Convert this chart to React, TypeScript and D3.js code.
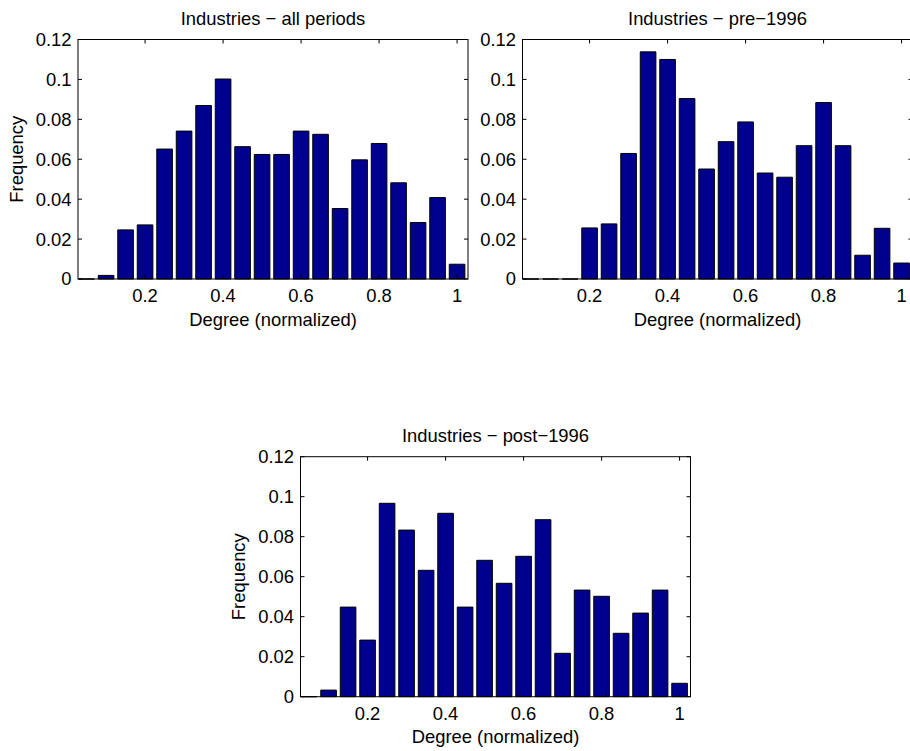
import React from 'react'
import * as d3 from 'd3'

// bin centres shared by all three histograms
const binCenters = [0.05, 0.1, 0.15, 0.2, 0.25, 0.3, 0.35, 0.4, 0.45, 0.5,
    0.55, 0.6, 0.65, 0.7, 0.75, 0.8, 0.85, 0.9, 0.95, 1.0]

const allPeriods = [0, 0.0018, 0.0246, 0.0271, 0.0651, 0.0741, 0.0869, 0.1002, 0.0663, 0.0624,
    0.0624, 0.0741, 0.0725, 0.0353, 0.0597, 0.0679, 0.0482, 0.0283, 0.0408, 0.0074]

const pre1996 = [0, 0, 0, 0.0256, 0.0276, 0.0629, 0.1138, 0.110, 0.0904, 0.0551,
    0.0688, 0.0787, 0.0531, 0.0510, 0.0668, 0.0884, 0.0668, 0.0119, 0.0254, 0.0080]

const post1996 = [0, 0.0033, 0.0448, 0.0283, 0.0967, 0.0833, 0.0632, 0.0917, 0.0448, 0.0682,
    0.0567, 0.0702, 0.0885, 0.0217, 0.0533, 0.0502, 0.0317, 0.0418, 0.0533, 0.0067]

const xTicks = [0.2, 0.4, 0.6, 0.8, 1]
const yTicks = [0, 0.02, 0.04, 0.06, 0.08, 0.1, 0.12]
const titles = ['Industries \u2212 all periods', 'Industries \u2212 pre\u22121996', 'Industries \u2212 post\u22121996']

const barFill = '#00008F'
const font = '"Liberation Sans", Arial, Helvetica, sans-serif'
const fontSize = 18.4
const binWidth = 0.05
const barFrac = 0.8
const tickLen = 4

interface PanelProps {
    title: string
    values: number[]
    left: number
    top: number
    width: number
    height: number
    showYLabel: boolean
}

const Panel = ({ title, values, left, top, width, height, showYLabel }: PanelProps) => {
    const x = d3.scaleLinear().domain([0.028, 1.028]).range([left, left + width])
    const y = d3.scaleLinear().domain([0, 0.12]).range([top + height, top])
    const bottom = top + height
    const right = left + width
    const cx = left + width / 2

    const half = binWidth * barFrac / 2
    const bars = binCenters.map((c, i) => {
        const x0 = x(c - half)
        const x1 = x(c + half)
        const y1 = y(values[i])
        return `M${x0},${bottom}V${y1}H${x1}V${bottom}Z`
    })

    return (
        <g>
            <text x={cx} y={top - 14.5} textAnchor="middle" fontSize={fontSize}>{title}</text>
            {bars.map((d, i) => (
                <path key={`bar-${i}`} d={d} fill={barFill} stroke="black" strokeWidth={1} />
            ))}
            <rect x={left} y={top} width={width} height={height} fill="none" stroke="black" strokeWidth={1} />
            {xTicks.map(t => (
                <g key={`xt-${t}`}>
                    <line x1={x(t)} x2={x(t)} y1={bottom} y2={bottom - tickLen} stroke="black" />
                    <line x1={x(t)} x2={x(t)} y1={top} y2={top + tickLen} stroke="black" />
                    <text x={x(t)} y={bottom + 23} textAnchor="middle" fontSize={fontSize}>{String(t)}</text>
                </g>
            ))}
            {yTicks.map(t => (
                <g key={`yt-${t}`}>
                    <line x1={left} x2={left + tickLen} y1={y(t)} y2={y(t)} stroke="black" />
                    <line x1={right} x2={right - tickLen} y1={y(t)} y2={y(t)} stroke="black" />
                    <text x={left - 6.5} y={y(t)} dy="0.35em" textAnchor="end" fontSize={fontSize}>{String(t)}</text>
                </g>
            ))}
            <text x={cx} y={bottom + 46.7} textAnchor="middle" fontSize={fontSize}>Degree (normalized)</text>
            {showYLabel && (
                <text transform={`translate(${left - 55.5},${top + height / 2}) rotate(-90)`}
                      textAnchor="middle" fontSize={fontSize}>Frequency</text>
            )}
        </g>
    )
}

const App = () => {
    return (
        <svg width={910} height={751}
             style={{ position: 'fixed', left: 0, top: 0, background: 'white', fontFamily: font }}>
            <rect x={0} y={0} width={910} height={751} fill="white" />
            <Panel title={titles[0]} values={allPeriods} left={78} top={39.5} width={390} height={239.5} showYLabel={true} />
            <Panel title={titles[1]} values={pre1996} left={522.5} top={39.5} width={390} height={239.5} showYLabel={false} />
            <Panel title={titles[2]} values={post1996} left={300.5} top={456.7} width={390} height={240} showYLabel={true} />
        </svg>
    )
}

export default App
